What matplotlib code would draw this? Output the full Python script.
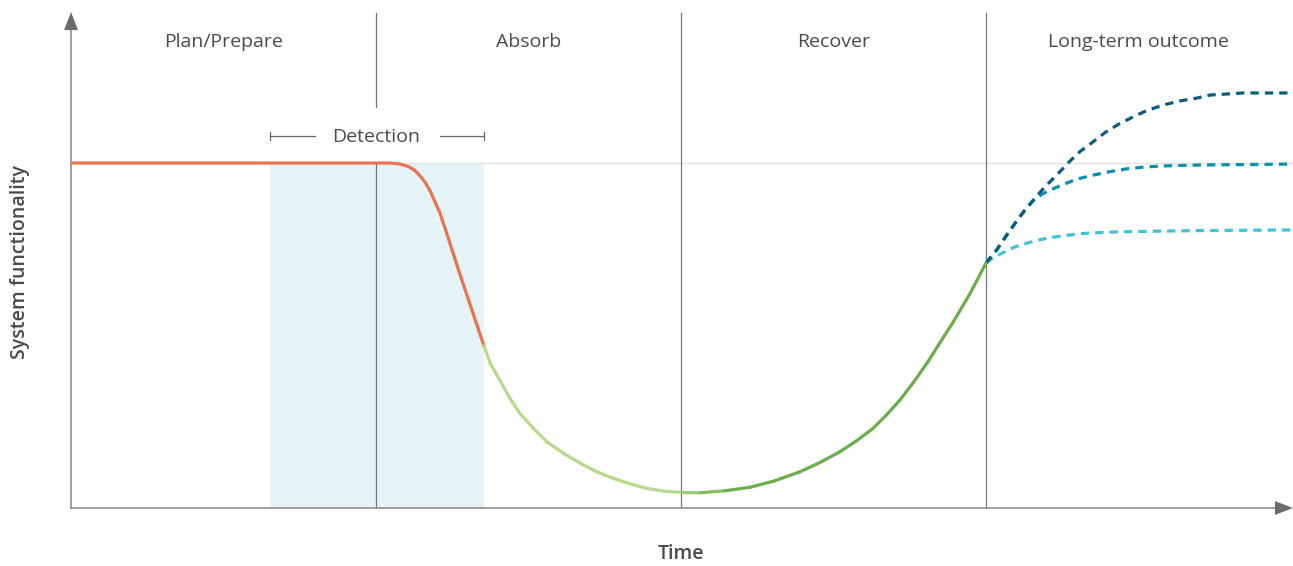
import numpy as np
import matplotlib.pyplot as plt
from matplotlib.collections import LineCollection
from matplotlib.colors import to_rgb

plt.rcParams['font.family'] = ['Open Sans', 'DejaVu Sans']

# phases (x units: one phase = 1)
phases = ["Plan/Prepare", "Absorb", "Recover", "Long-term outcome"]
phase_bounds = [1.0, 2.0, 3.0]
detection = (0.652, 1.354)
baseline = 1.0

# impact curve (red part)
red_x = [0.0, 1.0, 1.046, 1.079, 1.106, 1.128, 1.144, 1.161, 1.177, 1.193, 1.210, 1.232, 1.253,
         1.275, 1.297, 1.319, 1.341, 1.354]
red_y = [1.0, 1.0, 1.0, 0.997, 0.990, 0.978, 0.963, 0.944, 0.920, 0.888, 0.854, 0.796, 0.738,
         0.678, 0.620, 0.562, 0.504, 0.470]

# recovery curve (green part)
green_x = [1.354, 1.374, 1.407, 1.439, 1.472, 1.516, 1.560, 1.614, 1.669, 1.724, 1.778, 1.833, 1.888,
           1.942, 2.002, 2.062, 2.144, 2.226, 2.308, 2.390, 2.456, 2.521, 2.576, 2.630, 2.674, 2.718,
           2.762, 2.806, 2.849, 2.893, 2.948, 3.0]
green_y = [0.470, 0.420, 0.369, 0.318, 0.274, 0.231, 0.192, 0.159, 0.130, 0.105, 0.086, 0.070, 0.057,
           0.049, 0.045, 0.044, 0.050, 0.060, 0.079, 0.105, 0.132, 0.163, 0.195, 0.231, 0.270, 0.313,
           0.364, 0.419, 0.479, 0.540, 0.622, 0.710]

# long-term outcome scenarios
top_x = [3.0, 3.035, 3.068, 3.095, 3.128, 3.161, 3.193, 3.232, 3.270, 3.308, 3.352, 3.390, 3.434,
         3.483, 3.527, 3.581, 3.636, 3.691, 3.734, 3.843, 4.007]
top_y = [0.710, 0.748, 0.791, 0.825, 0.864, 0.898, 0.931, 0.965, 1.001, 1.033, 1.062, 1.088, 1.112,
         1.134, 1.152, 1.168, 1.180, 1.188, 1.197, 1.203, 1.203]
mid_x = [3.0, 3.035, 3.068, 3.095, 3.128, 3.161, 3.199, 3.248, 3.297, 3.352, 3.407, 3.461, 3.516,
         3.570, 3.636, 3.691, 4.007]
mid_y = [0.710, 0.748, 0.791, 0.825, 0.864, 0.898, 0.917, 0.936, 0.953, 0.965, 0.975, 0.983, 0.988,
         0.991, 0.993, 0.994, 0.997]
low_x = [3.0, 3.013, 3.051, 3.095, 3.144, 3.199, 3.253, 3.308, 3.363, 3.417, 3.472, 3.527, 3.691, 4.007]
low_y = [0.710, 0.719, 0.738, 0.757, 0.770, 0.782, 0.789, 0.795, 0.798, 0.800, 0.801, 0.802, 0.804, 0.806]

fig = plt.figure(figsize=(12.93, 5.66), dpi=100)
ax = fig.add_axes([71/1293, 58/566, 1222/1293, 496/566])
ax.set_xlim(0, 4.0066)
ax.set_ylim(0, 1.4377)
ax.axis('off')

text_c = '#4a4a4a'
grid_c = '#777777'

# detection window
ax.axvspan(detection[0], detection[1], ymin=0, ymax=baseline / 1.4377, color='#e4f4f8', lw=0, zorder=0)

# baseline reference
ax.axhline(baseline, color='#e3e3e3', lw=1, zorder=1)

# phase dividers
ax.plot([1.0, 1.0], [0, baseline], color=grid_c, lw=0.9, zorder=2)
ax.plot([1.0, 1.0], [1.162, 1.435], color=grid_c, lw=0.9, zorder=2)
for b in phase_bounds[1:]:
    ax.plot([b, b], [0, 1.435], color=grid_c, lw=0.9, zorder=2)

for i, name in enumerate(phases):
    ax.text(i + 0.5, 1.352, name, ha='center', va='center', fontsize=14, color=text_c)

# detection bracket
ax.text(1.0, 1.074, "Detection", ha='center', va='center', fontsize=14, color=text_c)
ax.plot([detection[0], 0.80], [1.078, 1.078], color='#666666', lw=0.9)
ax.plot([1.21, detection[1]], [1.078, 1.078], color='#666666', lw=0.9)
for xv in detection:
    ax.plot([xv, xv], [1.066, 1.090], color='#666666', lw=0.9)

# axes with arrows
axis_c = '#858585'
ax.plot([0, 0], [0, 1.39], color=axis_c, lw=1.1, clip_on=False, zorder=3)
ax.plot([0, 3.96], [0, 0], color=axis_c, lw=1.1, clip_on=False, zorder=3)
head = dict(arrowstyle='-|>,head_length=13,head_width=5', mutation_scale=1,
            color='#6b6b6b', lw=0, shrinkA=0, shrinkB=0)
ax.annotate('', xy=(0, 1.4377), xytext=(0, 1.38), arrowprops=head, annotation_clip=False)
ax.annotate('', xy=(4.0066, 0), xytext=(3.95, 0), arrowprops=head, annotation_clip=False)

# red part
ax.plot(red_x, red_y, color='#eb7350', lw=2.3, solid_capstyle='round', solid_joinstyle='round', zorder=5)

# green part with a light-to-dark transition around the bottom
gx = np.array(green_x)
gy = np.array(green_y)
segs = np.stack([np.column_stack([gx[:-1], gy[:-1]]), np.column_stack([gx[1:], gy[1:]])], axis=1)
light = np.array(to_rgb('#b6d98c'))
dark = np.array(to_rgb('#6aae4c'))
mids = (gx[:-1] + gx[1:]) / 2
t = np.clip((mids - 1.97) / 0.2, 0, 1)
cols = [light * (1 - a) + dark * a for a in t]
lc = LineCollection(segs, colors=cols, linewidths=2.3, capstyle='round', joinstyle='round', zorder=5)
ax.add_collection(lc)

# scenarios
ax.plot(low_x, low_y, color='#3ec3d8', lw=2.3, dashes=(2.6, 1.9), zorder=4)
ax.plot(mid_x, mid_y, color='#0b8fab', lw=2.3, dashes=(2.6, 1.9), zorder=4)
ax.plot(top_x, top_y, color='#0a5d7c', lw=2.3, dashes=(2.6, 1.9), zorder=4)

fig.text(681/1293, 1 - 554/566, "Time", ha='center', va='center', fontsize=14,
         fontweight='semibold', color=text_c)
fig.text(20/1293, 1 - 262/566, "System functionality", ha='center', va='center', rotation=90,
         fontsize=14, fontweight='semibold', color=text_c)

fig.savefig('out.png', dpi=100)
